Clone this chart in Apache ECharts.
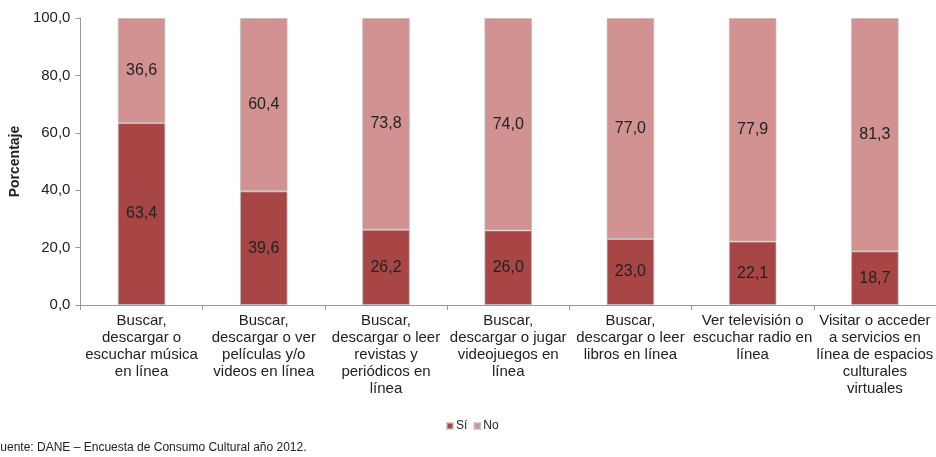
<!DOCTYPE html>
<html>
<head>
<meta charset="utf-8">
<script src="https://cdn.jsdelivr.net/npm/echarts@6/dist/echarts.min.js"></script>
<style>
  html, body { margin: 0; padding: 0; background: #fff; }
  #chart { width: 936px; height: 457px; }
</style>
</head>
<body>
<div id="chart"></div>
<script>
// categorías (con saltos de línea como en el original)
var categorias = [
  'Buscar,\ndescargar o\nescuchar música\nen línea',
  'Buscar,\ndescargar o ver\npelículas y/o\nvideos en línea',
  'Buscar,\ndescargar o leer\nrevistas y\nperiódicos en\nlínea',
  'Buscar,\ndescargar o jugar\nvideojuegos en\nlínea',
  'Buscar,\ndescargar o leer\nlibros en línea',
  'Ver televisión o\nescuchar radio en\nlínea',
  'Visitar o acceder\na servicios en\nlínea de espacios\nculturales\nvirtuales'
];
var si = [63.4, 39.6, 26.2, 26.0, 23.0, 22.1, 18.7];
var no = [36.6, 60.4, 73.8, 74.0, 77.0, 77.9, 81.3];

var fmt = function (v) { return Number(v).toFixed(1).replace('.', ','); };

var myChart = echarts.init(document.getElementById('chart'));

var barStyle = function (color) {
  return {
    color: color,
    borderColor: 'rgba(190,190,190,0.7)',
    borderWidth: 1
  };
};

var option = {
  animation: false,
  textStyle: { fontFamily: 'Liberation Sans, Arial, sans-serif' },
  grid: { left: 77, right: 0, top: 18, bottom: 152 },
  legend: {
    data: ['Sí', 'No'],
    left: 441,
    top: 415,
    itemWidth: 6,
    itemHeight: 6,
    itemGap: 6,
    icon: 'rect',
    textStyle: { fontSize: 12, color: '#222', padding: [0, 0, 0, -2] }
  },
  xAxis: {
    type: 'category',
    data: categorias,
    axisLine: { lineStyle: { color: '#999' } },
    axisTick: { show: true, length: 5, lineStyle: { color: '#999' } },
    axisLabel: {
      interval: 0,
      fontSize: 15,
      lineHeight: 17,
      color: '#222',
      margin: 7
    }
  },
  yAxis: {
    type: 'value',
    min: 0,
    max: 100,
    interval: 20,
    name: 'Porcentaje',
    nameLocation: 'middle',
    nameGap: 54,
    nameTextStyle: { fontSize: 14, fontWeight: 'bold', color: '#222' },
    axisLine: { show: true, lineStyle: { color: '#999' } },
    axisTick: { show: true, length: 5, lineStyle: { color: '#999' } },
    splitLine: { show: false },
    axisLabel: { fontSize: 15, color: '#222', margin: 10, formatter: fmt }
  },
  series: [
    {
      name: 'Sí',
      type: 'bar',
      stack: 'total',
      barWidth: '39%',
      data: si,
      itemStyle: barStyle('#a84646'),
      label: { show: true, position: 'inside', fontSize: 16, color: '#222', formatter: function (p) { return fmt(p.value); } }
    },
    {
      name: 'No',
      type: 'bar',
      stack: 'total',
      barWidth: '39%',
      data: no,
      itemStyle: barStyle('#d39292'),
      label: { show: true, position: 'inside', fontSize: 16, color: '#222', formatter: function (p) { return fmt(p.value); } }
    }
  ],
  graphic: [
    {
      type: 'text',
      left: -7,
      top: 442,
      style: {
        text: 'Fuente: DANE – Encuesta de Consumo Cultural año 2012.',
        fontSize: 12,
        fill: '#222',
        fontFamily: 'Liberation Sans, Arial, sans-serif'
      }
    }
  ]
};

myChart.setOption(option);
</script>
</body>
</html>
